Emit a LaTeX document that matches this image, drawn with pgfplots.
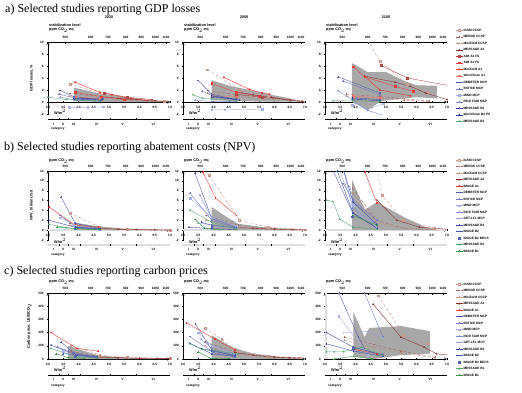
\documentclass[border=0pt]{standalone}
\usepackage{pgfplots}
\pgfplotsset{compat=1.18}
\usepackage{fontspec}
\setmainfont{Liberation Serif}
\newfontfamily\ar{Liberation Sans}
\newcommand\tk{\ar\bfseries\fontsize{3.2}{3.6}\selectfont}
\newcommand\lb{\ar\bfseries\fontsize{3.8}{4.2}\selectfont}
\newcommand\ti{\rmfamily\fontsize{12}{14}\selectfont}

\definecolor{cIGSM}{RGB}{205,150,140}
\definecolor{cMERGE}{RGB}{165,105,95}
\definecolor{cMCC}{RGB}{190,140,120}
\definecolor{cMA2}{RGB}{140,45,45}
\definecolor{cAA2}{RGB}{175,70,70}
\definecolor{cAA1}{RGB}{230,60,60}
\definecolor{cMA1}{RGB}{240,45,35}
\definecolor{cWA1}{RGB}{245,120,110}
\definecolor{cIA1}{RGB}{235,50,50}
\definecolor{cDEM}{RGB}{80,90,170}
\definecolor{cENT}{RGB}{110,120,195}
\definecolor{cMIND}{RGB}{165,175,225}
\definecolor{cRICE}{RGB}{125,140,210}
\definecolor{cGET}{RGB}{150,160,215}
\definecolor{cMB2}{RGB}{60,70,165}
\definecolor{cWB2}{RGB}{45,60,150}
\definecolor{cIB2}{RGB}{60,80,175}
\definecolor{cIB2B}{RGB}{80,95,180}
\definecolor{cMB1}{RGB}{80,165,110}
\definecolor{cIB1}{RGB}{40,150,60}
\definecolor{band}{RGB}{168,168,168}
\definecolor{strip}{RGB}{222,222,222}

\pgfplotsset{
 base/.style={scale only axis, width=122pt, xmin=3, xmax=7,
   tick label style={font=\tk}, /pgf/number format/assume math mode=true,
   tick style={black, line width=0.3pt}, major tick length=1.6pt, minor tick length=1pt,
   axis line style={-, line width=0.35pt, black}},
 panel/.style={base, axis x line=middle, axis y line=left, clip=true,
   xtick={3,3.5,...,7},
   xticklabel style={/pgf/number format/.cd, fixed, fixed zerofill, precision=1},
   hide obscured x ticks=false, hide obscured y ticks=false,
   every axis plot/.append style={line width=0.38pt, mark size=0.8pt},
   ylabel style={font=\lb}},
 topax/.style={base, axis x line*=top, axis y line=none, ymin=0, ymax=1,
   xtick={3.57,4.4,4.97,5.55,6.06,6.52,6.87},
   xticklabels={500,600,700,800,900,1000,1100}},
 rowa/.style={height=72pt, ymin=-2, ymax=10, ytick={-2,0,...,10}, minor y tick num=1},
 rowb/.style={height=69pt, ymin=-2, ymax=12, ytick={-2,0,...,12}, minor y tick num=1},
 rowc/.style={height=66pt, ymin=0, ymax=500, ytick={0,100,...,500}, minor y tick num=1},
 leg/.style={legend style={at={(1.07,#1)}, anchor=north west, draw=none, fill=none,
   font=\tk, row sep=2.9pt, inner sep=0pt, legend cell align=left,
   nodes={inner sep=0.4pt, text height=2.3pt, text depth=0.5pt}},
   legend image code/.code={\draw[mark repeat=2,mark phase=2] plot coordinates {(0pt,0pt)(3.5pt,0pt)(7pt,0pt)};}},
 sIGSM/.style={cIGSM, densely dashed, mark=square, mark options={solid,fill=white}},
 sMERGE/.style={cMERGE, densely dashed, mark=+, mark options={solid}},
 sMCC/.style={cMCC, densely dashed, mark=triangle, mark options={solid,fill=white}},
 sMA2/.style={cMA2, solid, mark=triangle*},
 sAA2/.style={cAA2, solid, mark=square*},
 sAA1/.style={cAA1, solid, mark=square*},
 sMA1/.style={cMA1, solid, mark=*},
 sWA1/.style={cWA1, solid, mark=square*},
 sIA1/.style={cIA1, solid, mark=+},
 sDEM/.style={cDEM, solid, mark=+},
 sENT/.style={cENT, solid, mark=+},
 sMIND/.style={cMIND, solid, mark=square*},
 sRICE/.style={cRICE, solid, mark=o, mark options={fill=white}},
 sGET/.style={cGET, solid, mark=-},
 sMB2/.style={cMB2, solid, mark=triangle*},
 sWB2/.style={cWB2, solid, mark=diamond*},
 sIB2/.style={cIB2, solid, mark=+},
 sIB2B/.style={cIB2B, only marks, mark=square*},
 sMB1/.style={cMB1, solid, mark=triangle*},
 sIB1/.style={cIB1, solid, mark=+},
}

% category axis: x0, Y line, Y labels, Y 'category', Y W/m2, line style
\newcommand\cataxis[6]{%
  \draw[#6] (#1,#2) -- ({#1+122},#2);
  \foreach \t in {3.35,3.65,4.05,5.05,5.9}
    \draw[line width=0.3pt] ({#1+(\t-3)*30.5},{#2-1.2}) -- ({#1+(\t-3)*30.5},{#2+1.2});
  \foreach \t/\l in {3.18/I,3.5/II,3.83/III,4.6/IV,5.45/V,6.45/VI}
    \node[font=\tk, inner sep=0pt] at ({#1+(\t-3)*30.5},#3) {\l};
  \node[font=\tk, anchor=west, inner sep=0pt] at ({#1+3},#4) {category};
  \node[font=\lb, anchor=west, inner sep=0pt] at ({#1+6},#5) {W/m$^2$};
}

\begin{document}
\begin{tikzpicture}[x=1pt,y=1pt]
\path (0,0) rectangle (522,392);

% ---------- titles ----------
\node[font=\ti, anchor=west, inner sep=0pt] at (5,382) {a) Selected studies reporting GDP losses};
\node[font=\ti, anchor=west, inner sep=0pt] at (4,244) {b) Selected studies reporting abatement costs (NPV)};
\node[font=\ti, anchor=west, inner sep=0pt] at (4,120) {c) Selected studies reporting carbon prices};
\node[font=\lb] at (109,375) {2030};
\node[font=\lb] at (244,375) {2050};
\node[font=\lb] at (386,375) {2100};
\foreach \x in {48,183,325}{
  \node[font=\lb, anchor=west, inner sep=0pt] at ({\x+1},367) {stabilization level};
  \node[font=\lb, anchor=west, inner sep=0pt] at ({\x+1},362) {ppm CO$_2$-eq};
  \node[font=\lb, anchor=west, inner sep=0pt] at ({\x+1},231) {ppm CO$_2$-eq};
  \node[font=\lb, anchor=west, inner sep=0pt] at ({\x+1},110) {ppm CO$_2$-eq};
  \cataxis{\x}{273}{268}{263}{280}{line width=0.35pt}
  \cataxis{\x}{147.3}{143}{137.5}{151.3}{strip, line width=1.6pt}
  \cataxis{\x}{17}{13}{6}{23}{line width=0.35pt}
}

% ================= ROW A =================
\begin{axis}[topax, height=72pt, at={(48pt,278pt)}, anchor=south west]\addplot[draw=none] coordinates {(3,0)};\end{axis}
\begin{axis}[topax, height=72pt, at={(183pt,278pt)}, anchor=south west]\addplot[draw=none] coordinates {(3,0)};\end{axis}
\begin{axis}[topax, height=72pt, at={(325pt,278pt)}, anchor=south west]\addplot[draw=none] coordinates {(3,0)};\end{axis}

\begin{axis}[panel, rowa, at={(48pt,278pt)}, anchor=south west, ylabel={GDP losses, \%}]
\addplot[fill=band, draw=none] coordinates {(3.85,0.1)(3.85,2.4)(4.6,1.5)(5.5,0.8)(6.3,0.3)(6.9,0)(5.5,0)(4.6,0.05)} -- cycle;
\addplot[sIGSM] coordinates {(3.72,3.0)(4.7,1.4)(5.6,0.7)(6.8,0.1)};
\addplot[sMERGE] coordinates {(3.72,1.4)(4.75,0.9)(5.6,0.5)(6.8,0.1)};
\addplot[sMCC] coordinates {(3.72,1.0)(4.75,0.6)(5.6,0.3)(6.8,0.05)};
\addplot[sMA2] coordinates {(4.75,0.9)(5.3,0.6)(5.9,0.4)(6.5,0.2)(7.1,0.05)};
\addplot[sAA2] coordinates {(4.85,1.5)(5.6,0.8)(6.4,0.4)};
\addplot[sAA1] coordinates {(3.9,1.6)(4.75,0.9)(5.5,0.4)};
\addplot[sMA1] coordinates {(3.89,3.3)(4.7,1.6)(5.1,1.2)(5.7,0.6)(6.25,0.25)};
\addplot[sWA1] coordinates {(3.9,0.9)(4.7,0.5)};
\addplot[sDEM] coordinates {(3.4,1.9)(3.85,0.9)(4.7,0.3)};
\addplot[sENT] coordinates {(3.37,1.3)(3.85,0.7)(4.7,0.3)};
\addplot[sMIND] coordinates {(3.7,-0.9)(4.3,-0.9)(4.8,-0.8)};
\addplot[sRICE] coordinates {(3.4,0.8)(3.85,0.4)(4.7,0.1)};
\addplot[sMB2] coordinates {(3.85,0.5)(4.75,0.3)};
\addplot[sWB2] coordinates {(3.85,0.6)(4.8,0.5)};
\addplot[sMB1] coordinates {(3.0,0.8)(3.6,0.4)(3.95,0.3)(4.7,0.2)};
\end{axis}

\begin{axis}[panel, rowa, at={(183pt,278pt)}, anchor=south west]
\addplot[fill=band, draw=none] coordinates {(3.94,0.3)(3.94,3.6)(4.6,2.6)(5.3,1.9)(6.0,1.1)(6.5,0.6)(6.9,0.1)(6.0,0.05)(5.0,0.1)(4.5,0.2)} -- cycle;
\addplot[sIGSM] coordinates {(3.8,5.4)(4.85,2.0)(5.8,0.9)(7.1,0.1)};
\addplot[sMERGE] coordinates {(3.8,1.9)(4.8,1.2)(5.7,0.7)(7.1,0.1)};
\addplot[sMCC] coordinates {(3.8,1.5)(4.8,0.9)(5.7,0.5)(7.1,0.05)};
\addplot[sMA2] coordinates {(4.75,1.7)(5.3,1.2)(5.9,0.8)(6.5,0.3)(6.9,0.05)};
\addplot[sAA2] coordinates {(4.75,1.3)(5.6,0.8)(6.5,0.4)};
\addplot[sAA1] coordinates {(3.94,3.1)(4.75,1.6)(5.5,1.0)};
\addplot[sMA1] coordinates {(4.34,4.1)(5.18,2.1)(5.6,1.5)(5.83,1.3)};
\addplot[sWA1] coordinates {(3.94,1.0)(4.75,0.9)};
\addplot[sDEM] coordinates {(3.49,3.6)(3.94,1.3)(4.75,0.4)};
\addplot[sENT] coordinates {(3.62,1.8)(3.94,1.1)(4.75,0.3)};
\addplot[sMIND] coordinates {(3.94,-1.3)(4.37,-1.3)(5.6,-1.2)};
\addplot[sRICE] coordinates {(3.4,0.3)(3.94,0.1)(4.75,0.1)};
\addplot[sMB2] coordinates {(3.94,0.8)(4.75,0.5)};
\addplot[sWB2] coordinates {(3.94,1.0)(4.85,0.3)};
\addplot[sMB1] coordinates {(3.33,1.2)(3.64,0.6)(3.94,0.5)(4.75,0.2)};
\end{axis}

\begin{axis}[panel, rowa, at={(325pt,278pt)}, anchor=south west, leg=1.19]
\addplot[fill=band, draw=none, forget plot] coordinates {(3.88,0.0)(3.88,6.5)(4.4,5.0)(5.0,5.0)(5.6,3.5)(6.0,2.8)(6.67,2.7)(6.67,0.6)(6.0,0.8)(5.0,0.3)(4.8,0)(4.4,-1.3)} -- cycle;
\addplot[sIGSM] coordinates {(4.3,11)(4.8,6.8)(5.7,3.0)(6.4,1.6)}; \addlegendentry{IGSM CCSP}
\addplot[sMERGE] coordinates {(3.7,1.3)(4.8,0.9)(5.6,0.5)(6.4,0.2)}; \addlegendentry{MERGE CCSP}
\addplot[sMCC] coordinates {(3.7,1.0)(4.8,0.6)(5.6,0.3)(6.4,0.1)}; \addlegendentry{MiniCAM CCSP}
\addplot[sMA2] coordinates {(4.3,4.3)(5.3,3.3)(5.8,2.6)(6.3,1.5)(7.0,0.4)}; \addlegendentry{MESSAGE A2}
\addplot[sAA2] coordinates {(4.84,6.1)(5.7,4.0)(7.1,2.7)}; \addlegendentry{AIM A2 FS}
\addplot[sAA1] coordinates {(3.92,5.9)(4.3,4.2)(5.3,2.6)(5.9,1.8)}; \addlegendentry{AIM A1 FS}
\addplot[sMA1] coordinates {(4.31,4.2)(4.8,2.0)(5.8,1.0)}; \addlegendentry{MiniCAM A1}
\addplot[sWA1] coordinates {(3.92,1.0)(4.8,0.7)}; \addlegendentry{WorldScan A1}
\addplot[sDEM] coordinates {(3.43,4.2)(4.8,1.5)}; \addlegendentry{DEMETER MCP}
\addplot[sENT] coordinates {(3.59,3.5)(4.8,1.2)}; \addlegendentry{ENTICE MCP}
\addplot[sMIND] coordinates {(3.9,-0.5)(4.4,-1.3)(4.9,-0.3)}; \addlegendentry{MIND MCP}
\addplot[sRICE] coordinates {(3.43,1.9)(4.4,-1.4)(4.9,-2.2)}; \addlegendentry{RICE FAIR MCP}
\addplot[sMB2] coordinates {(3.9,0.7)(4.8,0.4)}; \addlegendentry{MESSAGE B2}
\addplot[sWB2] coordinates {(3.9,0.5)(4.8,0.2)}; \addlegendentry{WorldScan B2 PS}
\addplot[sMB1] coordinates {(3.26,0.2)(3.9,0.2)(4.8,0.1)}; \addlegendentry{MESSAGE B1}
\end{axis}

% ================= ROW B =================
\begin{axis}[topax, height=69pt, at={(48pt,152pt)}, anchor=south west]\addplot[draw=none] coordinates {(3,0)};\end{axis}
\begin{axis}[topax, height=69pt, at={(183pt,152pt)}, anchor=south west]\addplot[draw=none] coordinates {(3,0)};\end{axis}
\begin{axis}[topax, height=69pt, at={(325pt,152pt)}, anchor=south west]\addplot[draw=none] coordinates {(3,0)};\end{axis}

\begin{axis}[panel, rowb, at={(48pt,152pt)}, anchor=south west, ylabel={NPV, trillion US\$}]
\addplot[strip, line width=1.6pt, forget plot] coordinates {(3,0)(7,0)};
\addplot[fill=band, draw=none] coordinates {(3.9,0)(3.9,1.5)(4.6,0.8)(5.5,0.3)(6.8,0)} -- cycle;
\addplot[sIGSM] coordinates {(3.72,3.5)(4.7,0.6)(5.6,0.2)(7.0,0.05)};
\addplot[sMERGE] coordinates {(3.72,1.5)(4.7,0.4)(5.6,0.1)(7.0,0)};
\addplot[sMCC] coordinates {(3.72,1.0)(4.7,0.3)(5.6,0.1)(7.0,0)};
\addplot[sMA2] coordinates {(4.7,0.3)(5.3,0.2)(5.9,0.1)(6.5,0.05)(7.1,0)};
\addplot[sIA1] coordinates {(3.03,4.7)(3.89,1.0)(4.65,0.6)};
\addplot[sDEM] coordinates {(3.43,6.7)(3.89,1.4)(4.7,0.3)};
\addplot[sENT] coordinates {(3.4,3.0)(3.89,0.7)(4.7,0.2)};
\addplot[sMIND] coordinates {(3.4,2.5)(3.9,0.9)(4.7,0.2)};
\addplot[sRICE] coordinates {(3.9,0.5)(4.7,0.1)};
\addplot[sGET] coordinates {(3.9,0.4)(4.7,0.2)};
\addplot[sMB2] coordinates {(3.03,2.0)(3.95,0.5)(4.7,0.1)};
\addplot[sIB2] coordinates {(3.9,0.6)(4.7,0.3)};
\addplot[sIB2B] coordinates {(3.9,0.3)};
\addplot[sMB1] coordinates {(3.03,1.2)(3.6,0.5)(3.95,0.3)(4.7,0.1)};
\addplot[sIB1] coordinates {(3.3,0.6)(3.9,0.3)(4.7,0.1)};
\end{axis}

\begin{axis}[panel, rowb, at={(183pt,152pt)}, anchor=south west]
\addplot[strip, line width=1.6pt, forget plot] coordinates {(3,0)(7,0)};
\addplot[fill=band, draw=none] coordinates {(3.94,0)(3.94,4.7)(4.4,2.8)(4.8,1.3)(5.5,0.7)(6.3,0.3)(7.0,0)} -- cycle;
\addplot[sIGSM] coordinates {(3.85,11.2)(4.85,2.0)(5.8,0.6)(7.0,0.1)};
\addplot[sMERGE] coordinates {(3.75,3.0)(4.8,1.0)(5.7,0.3)(7.0,0.05)};
\addplot[sMCC] coordinates {(3.75,2.0)(4.8,0.6)(5.7,0.2)(7.0,0)};
\addplot[sMA2] coordinates {(4.75,0.5)(5.3,0.4)(6.0,0.2)(6.6,0.1)(7.2,0)};
\addplot[sIA1] coordinates {(3.65,11.8)(4.07,6.5)(4.75,3.0)};
\addplot[sDEM] coordinates {(3.39,11.6)(3.94,2.4)(4.75,0.6)};
\addplot[sENT] coordinates {(3.23,7.5)(3.94,2.0)(4.75,0.4)};
\addplot[sMIND] coordinates {(3.23,6.5)(3.94,2.6)(4.75,0.8)};
\addplot[sRICE] coordinates {(3.55,7.1)(3.94,2.4)(4.75,0.5)};
\addplot[sGET] coordinates {(3.5,1.5)(3.94,1.0)(4.75,0.3)};
\addplot[sMB2] coordinates {(3.2,0.6)(3.94,0.3)(4.75,0.1)};
\addplot[sIB2] coordinates {(3.6,1.6)(3.94,1.0)(4.75,0.5)};
\addplot[sIB2B] coordinates {(3.94,0.8)};
\addplot[sMB1] coordinates {(3.23,4.1)(3.94,1.6)(4.75,0.2)};
\addplot[sIB1] coordinates {(3.39,2.2)(3.7,0.4)(4.3,0.1)};
\end{axis}

\begin{axis}[panel, rowb, at={(325pt,152pt)}, anchor=south west, leg=1.186]
\addplot[strip, line width=1.6pt, forget plot] coordinates {(3,0)(7,0)};
\addplot[fill=band, draw=none, forget plot] coordinates {(3.89,0)(3.89,10.2)(4.3,4.1)(4.55,5.1)(4.7,5.7)(5.6,2.6)(6.3,0.6)(6.7,0)} -- cycle;
\addplot[sIGSM] coordinates {(4.7,12.5)(4.87,7.1)(5.56,2.0)(6.6,0.5)}; \addlegendentry{IGSM CCSP}
\addplot[sMERGE] coordinates {(3.6,9.5)(3.9,8.5)(4.7,2.0)(5.6,0.3)(6.6,0.1)}; \addlegendentry{MERGE CCSP}
\addplot[sMCC] coordinates {(3.9,7.5)(4.7,1.5)(5.6,0.4)(6.6,0.1)}; \addlegendentry{MiniCAM CCSP}
\addplot[sMA2] coordinates {(4.7,6.1)(5.36,2.0)(6.1,0.6)(7.2,0.1)}; \addlegendentry{MESSAGE A2}
\addplot[sIA1] coordinates {(4.31,11.8)(4.7,5.5)}; \addlegendentry{IMAGE A1}
\addplot[sDEM] coordinates {(3.23,12.5)(3.92,3.4)(4.7,0.5)}; \addlegendentry{DEMETER MCP}
\addplot[sENT] coordinates {(3.59,9.5)(3.92,6.1)(4.7,2.0)}; \addlegendentry{ENTICE MCP}
\addplot[sMIND] coordinates {(3.45,12.5)(3.92,5.1)(4.7,0.5)}; \addlegendentry{MIND MCP}
\addplot[sRICE] coordinates {(3.6,12.5)(3.9,4.5)(4.7,1.0)}; \addlegendentry{RICE FAIR MCP}
\addplot[sGET] coordinates {(3.8,9)(4.1,3)(4.7,1.5)}; \addlegendentry{GET-LFL MCP}
\addplot[sMB2] coordinates {(3.6,12.5)(3.92,5.7)(4.7,1.2)}; \addlegendentry{MESSAGE B2}
\addplot[sIB2] coordinates {(3.4,12)(3.92,3.5)(4.7,0.4)}; \addlegendentry{IMAGE B2}
\addplot[sIB2B] coordinates {(3.9,2.7)}; \addlegendentry{IMAGE B2 BECS}
\addplot[sMB1] coordinates {(3.05,6.1)(3.26,5.8)(3.49,2.2)(3.92,0.6)(4.7,0.2)}; \addlegendentry{MESSAGE B1}
\addplot[sIB1] coordinates {(3.9,3.0)(4.7,1.0)}; \addlegendentry{IMAGE B1}
\end{axis}

% ================= ROW C =================
\begin{axis}[topax, height=66pt, at={(48pt,33pt)}, anchor=south west]\addplot[draw=none] coordinates {(3,0)};\end{axis}
\begin{axis}[topax, height=66pt, at={(183pt,33pt)}, anchor=south west]\addplot[draw=none] coordinates {(3,0)};\end{axis}
\begin{axis}[topax, height=66pt, at={(325pt,33pt)}, anchor=south west]\addplot[draw=none] coordinates {(3,0)};\end{axis}

\begin{axis}[panel, rowc, at={(48pt,33pt)}, anchor=south west, ylabel={Carbon price, US\$/tCO$_2$}]
\addplot[fill=band, draw=none] coordinates {(3.65,0)(3.65,100)(4.2,60)(4.7,25)(5.5,10)(6.8,0)} -- cycle;
\addplot[sIGSM] coordinates {(3.75,105)(4.7,30)(5.6,12)(7.0,5)};
\addplot[sMERGE] coordinates {(3.75,60)(4.7,20)(5.6,8)(7.0,2)};
\addplot[sMCC] coordinates {(3.75,50)(4.7,15)(5.6,6)(7.0,2)};
\addplot[sMA2] coordinates {(4.6,15)(5.3,10)(6.0,5)(6.6,3)(7.1,2)};
\addplot[sIA1] coordinates {(3.1,200)(3.95,80)(4.64,60)};
\addplot[sDEM] coordinates {(3.43,130)(3.85,40)(4.6,15)};
\addplot[sENT] coordinates {(3.3,90)(3.85,50)(4.6,20)};
\addplot[sMIND] coordinates {(3.5,60)(3.9,30)(4.6,10)};
\addplot[sRICE] coordinates {(3.9,25)(4.6,8)};
\addplot[sGET] coordinates {(3.6,45)(4.0,25)(4.6,10)};
\addplot[sMB2] coordinates {(3.1,105)(3.95,30)(4.6,10)};
\addplot[sIB2] coordinates {(3.5,40)(3.9,35)(4.6,15)};
\addplot[sIB2B] coordinates {(3.9,20)};
\addplot[sMB1] coordinates {(3.1,80)(3.95,15)(4.6,8)};
\addplot[sIB1] coordinates {(3.26,40)(3.66,10)(4.2,5)};
\end{axis}

\begin{axis}[panel, rowc, at={(183pt,33pt)}, anchor=south west]
\addplot[fill=band, draw=none] coordinates {(3.94,0)(3.94,180)(4.6,90)(5.3,40)(6.2,15)(7.0,0)} -- cycle;
\addplot[sIGSM] coordinates {(3.72,235)(4.27,150)(4.8,60)(5.8,25)(6.8,10)};
\addplot[sMERGE] coordinates {(3.72,130)(4.8,45)(5.8,15)(6.8,5)};
\addplot[sMCC] coordinates {(3.72,100)(4.8,35)(5.8,12)(6.8,4)};
\addplot[sMA2] coordinates {(4.7,50)(5.3,30)(6.0,15)(6.5,10)(7.2,5)};
\addplot[sIA1] coordinates {(3.12,275)(4.05,150)(4.7,70)};
\addplot[sDEM] coordinates {(3.41,265)(3.94,70)(4.7,20)};
\addplot[sENT] coordinates {(3.22,170)(4.0,50)(4.7,15)};
\addplot[sMIND] coordinates {(3.5,200)(3.94,100)(4.7,30)};
\addplot[sRICE] coordinates {(3.6,150)(3.94,80)(4.7,25)};
\addplot[sGET] coordinates {(3.8,120)(4.7,40)};
\addplot[sMB2] coordinates {(3.22,120)(3.94,40)(4.7,20)};
\addplot[sIB2] coordinates {(3.6,80)(3.94,60)(4.7,30)};
\addplot[sIB2B] coordinates {(3.94,40)};
\addplot[sMB1] coordinates {(3.22,115)(3.62,75)(4.8,40)};
\addplot[sIB1] coordinates {(3.5,55)(3.9,5)(4.5,3)};
\end{axis}

\begin{axis}[panel, rowc, at={(325pt,33pt)}, anchor=south west, leg=1.164]
\addplot[strip, line width=1.8pt, forget plot] coordinates {(3.03,0)(3.03,500)};
\addplot[fill=band, draw=none, forget plot] coordinates {(3.93,20)(3.93,355)(4.3,165)(4.45,235)(5.5,250)(6.45,210)(6.45,40)(5.5,30)(4.6,0)} -- cycle;
\addplot[sIGSM] coordinates {(4.75,480)(5.57,180)(6.38,115)}; \addlegendentry{IGSM CCSP}
\addplot[sMERGE] coordinates {(3.64,165)(4.6,110)(5.5,60)(6.6,15)}; \addlegendentry{MERGE CCSP}
\addplot[sMCC] coordinates {(3.64,140)(4.6,90)(5.5,45)(6.6,10)}; \addlegendentry{MiniCAM CCSP}
\addplot[sMA2] coordinates {(4.58,415)(5.49,165)(6.25,90)(6.65,40)(7.2,25)}; \addlegendentry{MESSAGE A2}
\addplot[sIA1] coordinates {(3.9,75)(4.7,40)}; \addlegendentry{IMAGE A1}
\addplot[sDEM] coordinates {(3.45,500)(4.1,165)(4.3,80)}; \addlegendentry{DEMETER MCP}
\addplot[sENT] coordinates {(4.3,500)(4.9,165)}; \addlegendentry{ENTICE MCP}
\addplot[sMIND] coordinates {(3.45,325)(4.4,30)}; \addlegendentry{MIND MCP}
\addplot[sRICE] coordinates {(3.93,60)(4.9,40)}; \addlegendentry{RICE FAIR MCP}
\addplot[sGET] coordinates {(3.6,200)(4.4,210)(4.9,165)}; \addlegendentry{GET-LFL MCP}
\addplot[sMB2] coordinates {(3.05,200)(3.93,90)(4.9,30)}; \addlegendentry{MESSAGE B2}
\addplot[sIB2] coordinates {(3.05,115)(3.93,60)(4.9,20)}; \addlegendentry{IMAGE B2}
\addplot[sIB2B] coordinates {(3.93,80)}; \addlegendentry{IMAGE B2 BECS}
\addplot[sMB1] coordinates {(3.05,55)(3.3,55)(3.6,55)(4.2,90)(4.9,30)}; \addlegendentry{MESSAGE B1}
\addplot[sIB1] coordinates {(3.3,0)(3.93,20)(4.55,0)}; \addlegendentry{IMAGE B1}
\end{axis}
\end{tikzpicture}
\end{document}
